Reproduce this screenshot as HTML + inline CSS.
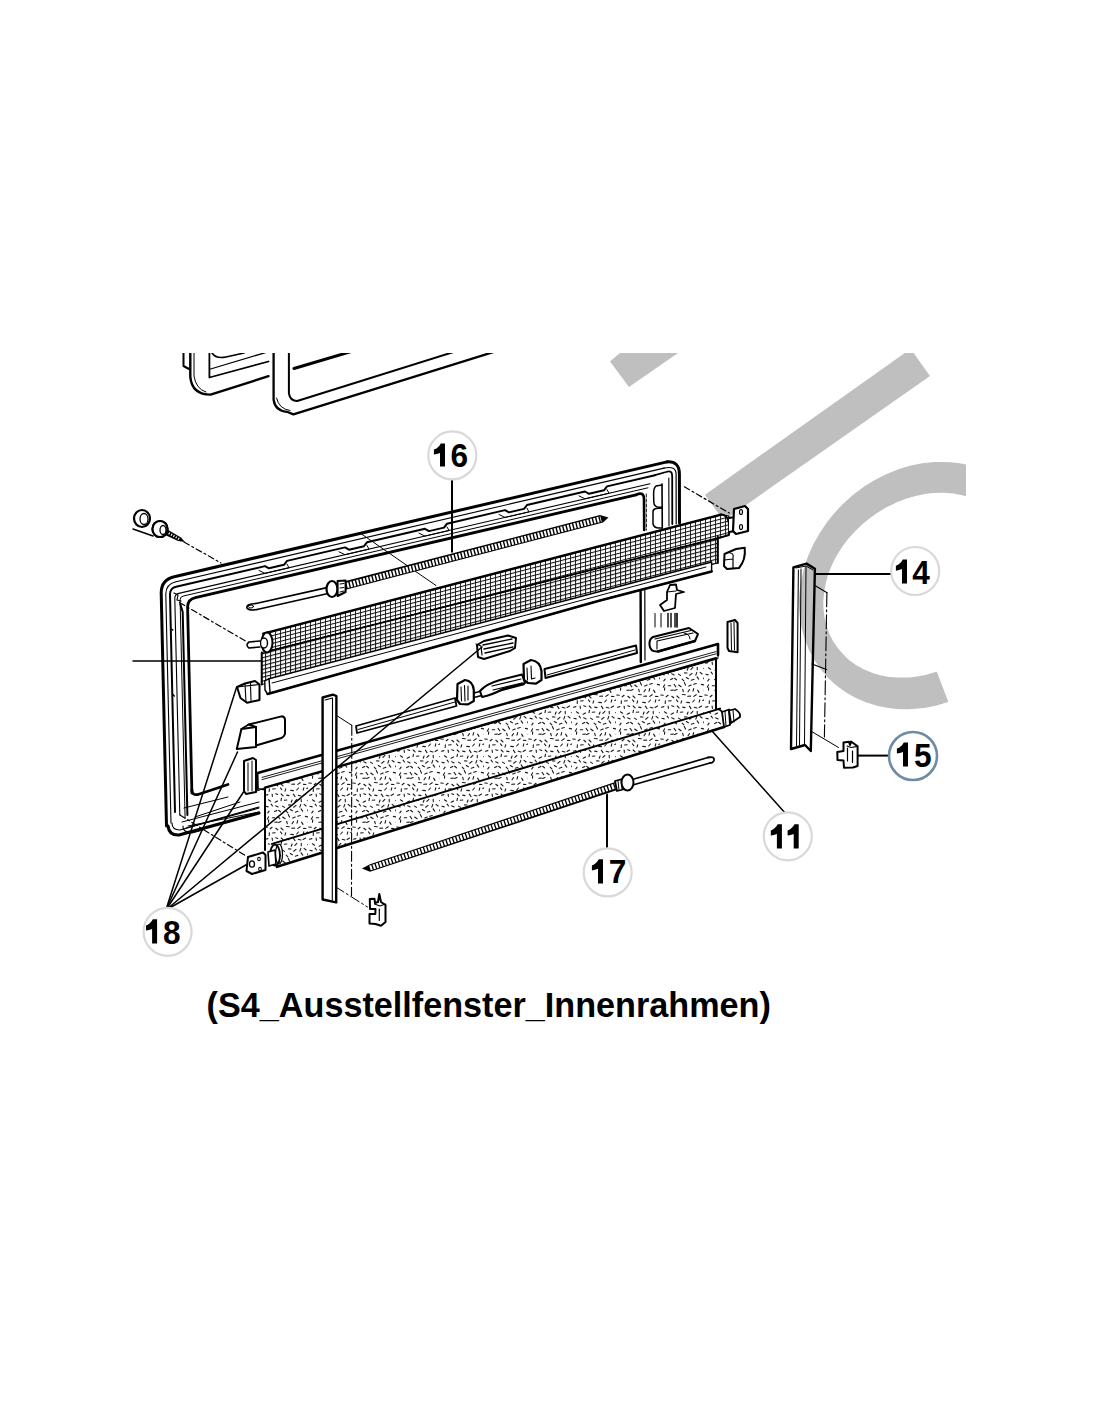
<!DOCTYPE html>
<html><head><meta charset="utf-8"><style>
html,body{margin:0;padding:0;background:#fff;}
body{width:1100px;height:1422px;overflow:hidden;position:relative;font-family:"Liberation Sans",sans-serif;}
svg{position:absolute;left:0;top:0;}
</style></head><body>
<svg width="1100" height="1422" viewBox="0 0 1100 1422">
<defs>
<pattern id="mesh" patternUnits="userSpaceOnUse" width="5.0" height="3.9" patternTransform="skewY(-14.57)"><rect width="5.0" height="3.9" fill="#fff"/><rect x="0" y="0" width="5.0" height="1.15" fill="#111"/><rect x="0" y="0" width="0.95" height="3.9" fill="#111"/></pattern>
<pattern id="mesh2" patternUnits="userSpaceOnUse" width="5.0" height="3.9" patternTransform="skewY(-14.57)"><rect width="5.0" height="3.9" fill="#fff"/><rect x="0" y="0" width="5.0" height="1.05" fill="#111"/><rect x="0" y="0" width="0.85" height="3.9" fill="#111"/></pattern>
<pattern id="speck" patternUnits="userSpaceOnUse" width="44" height="44"><rect width="44" height="44" fill="#fff"/><path d="M3.9 2.6l-2.5 0.6M4.4 7.8l2.2 1.4M1.9 14.2l2.3 0.7M5.1 19.1l-1.3 1.8M4.6 24.8l-1.3 2.4M4.7 27.9l-0.2 2.2M0.7 35.0l2.6 0.2M5.4 40.8l-0.2 2.7M8.1 2.0l0.3 2.4M13.5 8.9l-2.4 1.3M7.1 12.2l1.4 1.8M12.8 18.4l-2.2 1.2M8.3 25.7l2.4 0.0M13.3 30.1l-2.5 0.2M8.1 35.3l-1.9 1.5M11.3 40.7l-2.8 0.3M11.7 1.7l2.1 0.7M17.5 6.2l-0.5 2.5M11.7 13.8l2.5 1.1M14.6 18.3l1.9 1.5M14.1 24.4l1.7 2.4M17.0 29.4l-2.4 1.2M11.8 36.3l1.9 1.5M16.5 39.9l1.3 1.8M17.2 2.0l1.9 1.9M22.9 8.0l-2.6 0.3M18.5 14.1l2.0 1.3M22.2 19.2l1.7 1.7M18.7 25.0l2.4 1.7M22.7 29.4l0.6 2.2M17.0 36.0l2.0 1.9M21.7 40.9l-0.7 2.3M22.7 3.1l2.3 0.5M28.1 8.0l-0.9 2.3M24.6 12.9l2.4 0.1M26.3 17.5l2.1 1.3M24.3 22.5l1.2 2.6M29.5 29.6l-1.5 2.2M22.4 34.5l2.9 0.2M26.7 42.4l2.7 0.2M29.4 2.1l1.6 2.5M32.9 7.3l-2.0 2.1M32.0 13.4l-2.3 1.8M34.0 19.3l-2.8 0.9M31.2 25.0l-2.4 1.1M33.7 28.6l-0.7 2.6M30.6 36.1l-2.9 0.1M34.5 40.0l-1.8 2.0M34.2 3.3l2.7 0.7M37.2 7.3l0.1 2.4M36.8 12.4l-1.0 2.7M37.1 16.9l1.6 2.2M36.3 23.5l-2.6 0.8M37.6 30.1l1.4 2.3M36.2 34.7l-2.4 1.7M39.8 39.8l-0.6 2.4M41.6 2.0l-2.5 1.4M43.8 8.5l1.5 1.8M40.1 12.4l2.0 1.6M43.5 18.0l1.6 2.4M41.4 24.4l2.2 0.5M45.8 28.0l-1.6 2.1M39.6 36.4l2.3 0.1M44.9 39.4l-2.1 1.2" stroke="#1a1a1a" stroke-width="1.1" stroke-linecap="round" fill="none"/></pattern>
</defs>
<polygon points="620,353 678,353 629,387 610,361.5" fill="#bfbfbf" stroke="none"/>
<polygon points="705,494.7 904.8,353 913.6,353 930,376 723.6,520.7" fill="#bfbfbf" stroke="none"/>
<clipPath id="wmclip"><polygon points="0,353 966,353 966,585 903.8,585 985.7,800 0,800"/></clipPath>
<path d="M1002.84 667.96 A114.5 131.8 46 1 1 843.76 503.24 A114.5 131.8 46 1 1 1002.84 667.96 Z M971.99 652.60 A84.4 103.3 53 1 1 870.41 517.80 A84.4 103.3 53 1 1 971.99 652.60 Z" fill="#bfbfbf" fill-rule="evenodd" stroke="none" clip-path="url(#wmclip)"/>
<g stroke="#000" stroke-linecap="round" stroke-linejoin="round" fill="none">
<clipPath id="topclip"><rect x="0" y="353" width="1100" height="200"/></clipPath>
<g clip-path="url(#topclip)">
<path d="M190.3 345 L190.3 376.8 Q192 394.6 210.6 394.6 L268.5 376.2" stroke-width="2.4" fill="none" />
<path d="M194 345 L194 376 Q196 389 206 392" stroke-width="1.0" fill="none" />
<path d="M183.5 353 L183.5 366 L189 369" stroke-width="2.0" fill="none" />
<path d="M209.4 345 L209.4 377.5 L268.5 361.5" stroke-width="1.8" fill="none" />
<path d="M210.6 369 L265.4 352.6" stroke-width="1.3" fill="none" />
<path d="M212 353 Q216 359 226 357 L244 353" stroke-width="1.6" fill="none" />
<path d="M273.6 345 L273.6 399.7 Q275 411 287 411.8 L293.4 414.4 L500 350" stroke-width="2.3" fill="none" />
<path d="M276.5 398 Q279 409 290 410.5" stroke-width="1.0" fill="none" />
<path d="M288.9 345 L288.9 393.4 Q290 401 297.2 401 L460 350" stroke-width="2.0" fill="none" />
<path d="M294 368.5 L353 351" stroke-width="3.0" fill="none" />
</g>
<path d="M166.5 826.0 L161.2 592.7 Q161.3 579.7 174.3 576.7 L667.0 461.9" stroke-width="3.0" fill="none" />
<path d="M171.0 823.0 L165.8 594.1 Q165.9 584.1 175.9 581.8 L664.0 468.1" stroke-width="1.1" fill="none" />
<path d="M175.0 812.0 L170.0 594.2 Q170.1 588.2 176.1 586.8 L265.0 566.1 L269.0 568.3 L284.0 564.8 L287.0 560.9 L345.0 547.4 L349.0 549.7 L364.0 546.2 L367.0 542.3 L425.0 528.8 L429.0 531.1 L444.0 527.6 L447.0 523.7 L505.0 510.1 L509.0 512.4 L524.0 508.9 L527.0 505.0 L585.0 491.5 L589.0 493.8 L604.0 490.3 L607.0 486.4 L655.0 475.2" stroke-width="2.0" fill="none" />
<path d="M179.8 815.0 L174.8 598.4 Q174.8 594.4 178.8 593.4 L650.0 483.7" stroke-width="1.1" fill="none" />
<path d="M185.1 818.0 L180.1 599.8 Q180.1 596.8 183.1 596.1 L648.0 487.8" stroke-width="1.0" fill="none" />
<path d="M191.9 793.0 L187.6 607.4 Q187.4 599.4 195.4 597.6 L636.0 494.9" stroke-width="2.8" fill="none" />
<path d="M259.0 570.5 L265.0 573.4 L289.0 567.8 L287.0 564.1" stroke-width="1.0" fill="none" />
<path d="M339.0 551.8 L345.0 554.7 L369.0 549.1 L367.0 545.5" stroke-width="1.0" fill="none" />
<path d="M419.0 533.2 L425.0 536.1 L449.0 530.5 L447.0 526.9" stroke-width="1.0" fill="none" />
<path d="M499.0 514.5 L505.0 517.4 L529.0 511.9 L527.0 508.2" stroke-width="1.0" fill="none" />
<path d="M579.0 495.9 L585.0 498.8 L609.0 493.2 L607.0 489.6" stroke-width="1.0" fill="none" />
<path d="M187.4 815 L182.7 612 L180.3 604" stroke-width="2.0" fill="none" />
<path d="M170.8 629 L172.8 630 M172.3 694 L174.3 696" stroke-width="1.4" fill="none" />
<path d="M174 593 L178 595 L177 600 L181 601" stroke-width="1.2" fill="none" />
<path d="M667 461.9 Q679.4 461 679.4 474 L679.5 523" stroke-width="3.0" fill="none" />
<path d="M664 468.1 Q676 465.5 676.1 474 L676.2 524" stroke-width="1.2" fill="none" />
<path d="M655 475.2 L666 472 Q672.2 469.6 672.2 476 L672.3 524" stroke-width="1.8" fill="none" />
<path d="M636 494.9 Q644 491 644 499 L644.2 530" stroke-width="2.6" fill="none" />
<path d="M168 826 Q169 835.5 179 835 L259 813" stroke-width="3.0" fill="none" />
<path d="M172 823 Q172 830 180 830 L259 808" stroke-width="1.1" fill="none" />
<path d="M191.9 790 Q191.9 795.5 198 794.5 L228 784.5" stroke-width="2.8" fill="none" />
<path d="M184 808 L228 797" stroke-width="1.0" fill="none" />
<path d="M195 817 L240 802" stroke-width="1.0" fill="none" />
<path d="M182 822 L259 802" stroke-width="1.0" fill="none" />
<path d="M186 828 L259 807" stroke-width="1.2" fill="none" />
<path d="M188 826 L259 812" stroke-width="1.0" fill="none" />
<path d="M183 826 Q182 832 192 833 L203 830" stroke-width="1.1" fill="none" />
<path d="M662 484 L662.3 528" stroke-width="1.6" fill="none" />
<path d="M668.8 478 L669 526" stroke-width="1.1" fill="none" />
<path d="M646.3 494 L646.5 530" stroke-width="0.9" fill="none" stroke-dasharray="3 2"/>
<path d="M662 485 L656 486 Q653.5 488 653.6 494 L653.8 502 Q654 507 659 507.3 L662 507.3" stroke-width="1.5" fill="none" />
<path d="M662 508 L656 508.5 Q653 509 653 512 L653 524 Q654 528 659 528 L662 528" stroke-width="1.5" fill="none" />
<path d="M640.6 589 L640.8 662" stroke-width="2.4" fill="none" />
<path d="M644.8 589 L645 660" stroke-width="1.2" fill="none" />
<ellipse cx="142" cy="518.5" rx="8" ry="8.5" stroke-width="2.2" fill="#fff"/>
<ellipse cx="144" cy="519" rx="4" ry="5.5" stroke-width="1.3"/>
<ellipse cx="160" cy="529" rx="7.5" ry="8" stroke-width="2.2" fill="#fff"/>
<path d="M133 529 L153 536" stroke-width="1.5" fill="none" />
<polygon points="163,527 181,537.5 185,542 178,541 163,534" fill="#000" stroke="none"/>
<path d="M164 530.5 L180 539.5" stroke-width="2.2" fill="none" stroke="#fff" stroke-linecap="butt" stroke-dasharray="1.1 1.6"/>
<ellipse cx="160" cy="529" rx="7.5" ry="8" stroke-width="2.2" fill="#fff"/>
<ellipse cx="163" cy="530" rx="3" ry="4.5" stroke-width="1.3" fill="#fff"/>
<path d="M184 542 L221 563" stroke-width="1.2" fill="none" stroke-dasharray="6 3 2 3"/>
<path d="M179.5 602.5 L245.5 641" stroke-width="1.2" fill="none" stroke-dasharray="6 3 2 3"/>
<path d="M360 533 L436 585.5" stroke-width="1.0" fill="none" />
<path d="M684.3 486.8 L729.3 513" stroke-width="1.2" fill="none" stroke-dasharray="6 3 2 3"/>
<path d="M180 815 L246 856" stroke-width="1.2" fill="none" stroke-dasharray="6 3 2 3"/>
<polygon points="345.6,581.1 600,515 608.5,517.5 603,522.5 345.6,589.8" fill="#000" stroke="none"/>
<path d="M347 585.4 L601 519" stroke-width="5.6" fill="none" stroke="#fff" stroke-linecap="butt" stroke-dasharray="2.0 1.4"/>
<path d="M256 603.5 L328 587.3 M257 609.5 L328 593.5" stroke-width="1.7" fill="none" />
<path d="M256 603.5 Q246 604 247 608 Q249 611 257 609.5" stroke-width="1.7" fill="#fff" />
<ellipse cx="251" cy="606.5" rx="2.5" ry="1.5" stroke-width="1"/>
<ellipse cx="332" cy="589" rx="5.5" ry="8" stroke-width="2.2" fill="#fff"/>
<path d="M337.6 581 L345.6 580.4 L345.6 592 L337.6 596 Z" stroke-width="2.0" fill="#fff" />
<path d="M340 584 L344 583.5 M340 588 L344 587.5 M340 592 L344 591" stroke-width="1.0" fill="none" />
<path d="M263.3 633.6 L721.0 514.6 L729.0 516.0 L729.0 535.0 L721.0 537.4 L269.0 651.0 Z" stroke-width="1.0" fill="url(#mesh2)" />
<path d="M263.3 633.6 L721 514.6" stroke-width="2.4" fill="none" />
<path d="M261.8 652.5 L269.0 651.0 L721.0 537.4 L717.8 537.0 L717.8 563.0 L261.8 684.5 Z" stroke-width="1.0" fill="url(#mesh)" />
<path d="M261.8 652.5 L261.8 684.5 M717.8 537 L717.8 563" stroke-width="2.0" fill="none" />
<path d="M269 651 L721 537.4" stroke-width="1.6" fill="none" />
<ellipse cx="267" cy="642.5" rx="5.5" ry="10" stroke-width="2" fill="#fff"/>
<ellipse cx="264" cy="643" rx="3.5" ry="5" stroke-width="1.4" fill="#fff"/>
<path d="M260 641 L249 642 Q245 645 249 648 L260 647" stroke-width="1.6" fill="#fff" />
<path d="M721 514.6 Q731 515 729 535 L721 537.4" stroke-width="2.0" fill="none" />
<path d="M729 518 L735 517 L735 531 L729 532" stroke-width="1.8" fill="#fff" />
<path d="M734 509 L745 506 L748 509 L748 531 L736 534 L733 531 Z" stroke-width="2.2" fill="#fff" />
<ellipse cx="741" cy="512" rx="1.5" ry="2.5" stroke-width="1.2"/>
<ellipse cx="741" cy="527" rx="1.5" ry="2.5" stroke-width="1.2"/>
<path d="M269 678.7 L711.6 562 L711.6 571.4 L600 600.5 L267.6 694 Z" stroke-width="1.4" fill="#fff" />
<path d="M267.6 694 L600 600.5 L711.6 571.4" stroke-width="2.6" fill="none" />
<path d="M264.8 681 L269 678.7 L270 692 L267.6 694 L265 690 Z" stroke-width="1.4" fill="#fff" />
<path d="M272 683 L706 567" stroke-width="1.0" fill="none" />
<path d="M265.0 787.7 L716.0 658.2 L716.0 709.8 L265.0 846.0 Z" stroke-width="1.0" fill="url(#speck)" stroke="none"/>
<path d="M265 785.7 L265 850.0 M716 658.2 L716 709.8" stroke-width="2.0" fill="none" />
<path d="M257.7 772.9 L718.0 644.0 L718.0 658.7 L265.0 787.7 L258.0 790.7 Z" stroke-width="1.0" fill="#fff" />
<path d="M257.7 772.9 L718 644.0 L718 655.0" stroke-width="2.6" fill="none" />
<path d="M262 777.4 L716 651.6 M262 779.6 L716 653.8" stroke-width="0.9" fill="none" />
<path d="M265 787.7 L716 658.2" stroke-width="2.4" fill="none" />
<path d="M257.7 772.9 L258 788.8 L265 789.7" stroke-width="1.6" fill="none" />
<path d="M277.0 842.4 L720.0 708.6 L724.0 727.0 L277.0 866.8 Z" stroke-width="1.0" fill="url(#speck)" stroke="none"/>
<path d="M272 843.9 L720 708.6" stroke-width="2.0" fill="none" />
<path d="M277 866.8 L724 727.0" stroke-width="2.6" fill="none" />
<path d="M718 709.2 Q727 712.2 724 727.0" stroke-width="1.8" fill="#fff" />
<path d="M722 712 L729 709.5 L730 725 L724 727 Z" stroke-width="1.8" fill="#fff" />
<path d="M729 710.5 L735 709 Q741 713 740 717 L731 723 Z" stroke-width="1.8" fill="#fff" />
<path d="M725 711.5 L726 726 M733 710 L734 722" stroke-width="1.0" fill="none" />
<ellipse cx="275" cy="855.2" rx="5" ry="10.5" stroke-width="1.8" fill="#fff"/>
<ellipse cx="279" cy="854.0" rx="3.5" ry="10" stroke-width="1.2"/>
<path d="M268 852 L275 850 L276 864 L269 866 Z" stroke-width="1.6" fill="#fff" />
<path d="M248 857 L263 852.5 L265.5 855 L265.5 870 L252 874 L246.5 871 Z" stroke-width="2.0" fill="#fff" />
<ellipse cx="252" cy="864" rx="2.5" ry="3.2" stroke-width="1.3"/>
<ellipse cx="259" cy="859" rx="1.3" ry="1.8" stroke-width="1.1"/>
<ellipse cx="260" cy="869" rx="1.3" ry="1.8" stroke-width="1.1"/>
<path d="M244 761 L253 758 L256 760 L256 792 L246 794 L244 791 Z" stroke-width="2.0" fill="#fff" />
<path d="M248 763 L248 791 M252 761 L252 791" stroke-width="1.0" fill="none" />
<path d="M336.4 715.4 L351.8 725.3" stroke-width="1.0" fill="none" />
<path d="M351.8 725.3 L351.5 895.5" stroke-width="1.1" fill="none" stroke-dasharray="10 3 2 3"/>
<path d="M335.4 886.7 L367.5 907" stroke-width="1.0" fill="none" stroke-dasharray="10 3 2 3"/>
<path d="M322.6 697.5 L333.0 694.7 L336.4 696.0 L336.2 902.4 L322.6 899.5 Z" stroke-width="2.4" fill="#fff" />
<path d="M332.5 698 L332.3 900 M325 700 L332.5 698" stroke-width="1.1" fill="none" />
<path d="M369.8 899 L374.5 898.8 L375 903 L378 902 L379.3 894 L381 902 L385.5 905 L385.5 922 L381 925.7 L375.5 924 L369.5 923.5 L369.5 914 L375.3 914 L375.5 909 L370 909 Z" stroke-width="2.0" fill="#fff" />
<path d="M379.3 909 L379.3 920.5 M374.5 904 L380 906 L385.5 904" stroke-width="1.2" fill="none" />
<polygon points="370,864.2 616,781.7 618,789.8 370,871.8 362,868.5" fill="#000" stroke="none"/>
<path d="M370 868 L616 785.7" stroke-width="5.0" fill="none" stroke="#fff" stroke-linecap="butt" stroke-dasharray="2.1 1.3"/>
<path d="M615 781 L624 778.5 L625 789 L617 791 Z" stroke-width="1.8" fill="#fff" />
<path d="M618 781 L619 790 M621 780 L622 789" stroke-width="1.0" fill="none" />
<ellipse cx="627.5" cy="782.5" rx="6" ry="8" stroke-width="2.0" fill="#fff"/>
<path d="M634 779 L708 757.5 M634.5 784.5 L710 763" stroke-width="1.8" fill="none" />
<path d="M708 757.5 Q715 756 714 760.5 Q713 763 710 763" stroke-width="1.8" fill="none" />
<path d="M237 687 L245 683.5 L255 681 L259.5 684.5 L259.5 700 L247 702.7 L240.5 698 Z" stroke-width="2.0" fill="#fff" />
<path d="M245 684 L246 702 M250.5 683 L251 701.5 M237 687 L259.5 684.5" stroke-width="1.1" fill="none" />
<path d="M248.6 724.5 L281.4 716.4 Q285.5 716 285 722 L285 734 Q284 737 281.4 738 L256 745.5 L256 727 Z" stroke-width="2.0" fill="#fff" />
<path d="M241.4 729 L256 727 L256 747 L236.8 749 Z" stroke-width="2.0" fill="#fff" />
<path d="M241.4 729 L248.6 724.5" stroke-width="1.5" fill="none" />
<path d="M356 726 L455 698 L456.5 706 L357 733 Z" stroke-width="1.8" fill="#fff" />
<path d="M358 729.5 L455 702" stroke-width="1.0" fill="none" />
<path d="M477 645 L484 641 L508 635.5 L516 638 L515 648 L510 651 L484 659 L478 657 Z" stroke-width="2.0" fill="#fff" />
<path d="M483 645 L512 639 M484 649 L513 643 M485 653 L513 647" stroke-width="1.3" fill="none" />
<path d="M476 644 L481 646 L482 655" stroke-width="1.2" fill="none" />
<path d="M457.5 684 L465 680 Q473 681 473.8 690 L473.8 701 L468 704.4 L460 704 L457 700 Z" stroke-width="2.2" fill="#fff" />
<path d="M461 687 L461.5 701 M464.5 685.5 L465 701 M468 686 L468 700" stroke-width="1.1" fill="none" />
<path d="M523.5 664 L531 660 Q540 661 541.5 671 L541.5 680 L536 683.6 L528 683 L524 680 Z" stroke-width="2.2" fill="#fff" />
<path d="M527 668 L527.5 680 M531 666 L531.5 679 L535 678" stroke-width="1.1" fill="none" />
<path d="M474 693 L524 680 M474 697.5 L524 684.5" stroke-width="1.5" fill="none" />
<path d="M480 691 Q486 684 500 680 L522 674.5 L525 683 L503 689 Q492 695 482 697 Z" stroke-width="2.0" fill="#fff" />
<path d="M492 686 L521 679 M493 690 L522 683" stroke-width="1.1" fill="none" />
<path d="M544.5 669 L636 645.5 L637 653 L545.5 678 Z" stroke-width="2.0" fill="#fff" />
<path d="M547 675 L635 650" stroke-width="1.0" fill="none" />
<path d="M670 585 L676 584.5 L677 590 L684 592 L676 594 L675 608 L664 611 L660 605 L667 600 L667 592 Z" stroke-width="1.8" fill="#fff" />
<path d="M667 592 L676 591" stroke-width="1.0" fill="none" />
<path d="M655 613.5 L655 627" stroke-width="1.0" fill="none" />
<path d="M661 613.5 L661 627" stroke-width="1.0" fill="none" />
<path d="M668 613.5 L668 627" stroke-width="1.4" fill="none" />
<path d="M671 613.5 L671 627" stroke-width="1.4" fill="none" />
<path d="M675 613.5 L675 627" stroke-width="1.4" fill="none" />
<path d="M677 613.5 L677 627" stroke-width="1.6" fill="none" />
<path d="M653 637 L689 628 L698 634 L695 641 L658 651.5 Q650 652 649.5 645 Q649 639 653 637 Z" stroke-width="2.0" fill="#fff" />
<path d="M655 639 L691 630.5 M657 649 L657 641 L693 633" stroke-width="1.1" fill="none" />
<path d="M658 651.5 L695 641" stroke-width="2.4" fill="none" />
<path d="M684 633 Q690 634 690 639" stroke-width="1.0" fill="none" />
<path d="M727.5 622 L735 620 L737.6 623 L737.6 652.3 L729 651 L727.5 648 Z" stroke-width="2.0" fill="#fff" />
<path d="M731 623 L731.5 650 M734 622 L734.5 650" stroke-width="1.0" fill="none" />
<path d="M724.5 554 L736 549 L744.7 547.7 Q746 560 739 568 L727 569 L724 566 Z" stroke-width="2.0" fill="#fff" />
<path d="M730 553 Q734 553 733 558 L733 568 M724 560 L733 559" stroke-width="1.2" fill="none" />
<path d="M814.9 585.6 L827.1 592.7" stroke-width="1.1" fill="none" />
<path d="M826.9 592.7 L824.4 737" stroke-width="1.1" fill="none" stroke-dasharray="14 3 2 3"/>
<path d="M812 664 L826.5 669.5" stroke-width="1.2" fill="none" />
<path d="M811.3 731.3 L838.5 747.5" stroke-width="1.0" fill="none" />
<path d="M793.4 567.4 L806.5 563.6 L814.9 568.7 L810.8 751 L805 745 L791 749 Z" stroke-width="2.4" fill="none" />
<path d="M798.4 570 L796.5 746 M801 569 L799.5 745 M806 567 L804.5 744" stroke-width="1.0" fill="none" />
<path d="M796 568 L806 566 L813 570" stroke-width="1.0" fill="none" />
<path d="M843.5 742.5 L849 741.8 L850 745 L851 741.5 L857.6 746.3 L857.6 766 L853 767.5 L844 767.7 L843.5 760.5 L837.5 760 L837.3 752 L843.5 751 Z" stroke-width="2.0" fill="#fff" />
<path d="M847.5 748 L847.5 761 M852.5 751 L852.5 762.5 M847 746 L851 747.5 L857.6 746.3" stroke-width="1.2" fill="none" />
<path d="M165.9 910 L236.5 687.5" stroke-width="1.5" fill="none" />
<path d="M165.9 910 L237.5 752" stroke-width="1.5" fill="none" />
<path d="M165.9 910 L243.5 792" stroke-width="1.5" fill="none" />
<path d="M165.9 910 L482 647" stroke-width="1.5" fill="none" />
<path d="M165.9 910 L246.8 864.5" stroke-width="1.5" fill="none" />
<path d="M133 661 L261.8 661" stroke-width="1.5" fill="none" />
<path d="M712 731 L786 814" stroke-width="1.5" fill="none" />
<path d="M607 794.4 L607 851" stroke-width="2.0" fill="none" />
</g>
<line x1="452.0" y1="473.0" x2="452.0" y2="552.5" stroke-width="2.0" stroke="#000"/>
<circle cx="452.3" cy="455.4" r="24" fill="#fff" stroke="#d9d9d9" stroke-width="2.2"/>
<path d="M445.00 443.40 L445.00 466.60 L440.00 466.60 L440.00 453.00 Q437.00 454.00 433.90 454.60 L433.90 449.60 Q438.50 447.90 440.80 443.40 Z" fill="#000" stroke="none"/>
<text transform="translate(450.60 467.20) scale(0.93 1)" x="0" y="0" font-family="Liberation Sans" font-weight="bold" font-size="34" fill="#000" stroke="none">6</text>
<line x1="815.0" y1="574.0" x2="891.0" y2="574.0" stroke-width="2.0" stroke="#000"/>
<circle cx="915.2" cy="571" r="24" fill="#fff" stroke="#d9d9d9" stroke-width="2.2"/>
<path d="M907.00 559.50 L907.00 583.50 L902.00 583.50 L902.00 569.10 Q899.00 570.10 895.90 570.70 L895.90 565.70 Q900.50 564.00 902.80 559.50 Z" fill="#000" stroke="none"/>
<text transform="translate(912.30 583.50) scale(0.93 1)" x="0" y="0" font-family="Liberation Sans" font-weight="bold" font-size="34" fill="#000" stroke="none">4</text>
<line x1="858.0" y1="755.6" x2="889.0" y2="755.6" stroke-width="2.0" stroke="#000"/>
<circle cx="913" cy="756" r="24" fill="#fff" stroke="#6e8ca5" stroke-width="2.6"/>
<path d="M908.00 742.40 L908.00 766.40 L903.00 766.40 L903.00 752.00 Q900.00 753.00 896.90 753.60 L896.90 748.60 Q901.50 746.90 903.80 742.40 Z" fill="#000" stroke="none"/>
<text transform="translate(914.10 766.60) scale(0.93 1)" x="0" y="0" font-family="Liberation Sans" font-weight="bold" font-size="34" fill="#000" stroke="none">5</text>
<circle cx="787.8" cy="836.3" r="24" fill="#fff" stroke="#d9d9d9" stroke-width="2.2"/>
<path d="M781.90 824.30 L781.90 848.60 L776.90 848.60 L776.90 833.90 Q773.90 834.90 770.80 835.50 L770.80 830.50 Q775.40 828.80 777.70 824.30 Z" fill="#000" stroke="none"/>
<path d="M798.70 824.30 L798.70 848.60 L793.70 848.60 L793.70 833.90 Q790.70 834.90 787.60 835.50 L787.60 830.50 Q792.20 828.80 794.50 824.30 Z" fill="#000" stroke="none"/>
<circle cx="607.7" cy="872.4" r="24" fill="#fff" stroke="#d9d9d9" stroke-width="2.2"/>
<path d="M603.00 859.20 L603.00 883.40 L598.00 883.40 L598.00 868.80 Q595.00 869.80 591.90 870.40 L591.90 865.40 Q596.50 863.70 598.80 859.20 Z" fill="#000" stroke="none"/>
<text transform="translate(608.70 883.40) scale(0.93 1)" x="0" y="0" font-family="Liberation Sans" font-weight="bold" font-size="34" fill="#000" stroke="none">7</text>
<circle cx="167.6" cy="931.8" r="24" fill="#fff" stroke="#d9d9d9" stroke-width="2.2"/>
<path d="M157.10 919.30 L157.10 943.60 L152.10 943.60 L152.10 928.90 Q149.10 929.90 146.00 930.50 L146.00 925.50 Q150.60 923.80 152.90 919.30 Z" fill="#000" stroke="none"/>
<text transform="translate(163.10 943.90) scale(0.93 1)" x="0" y="0" font-family="Liberation Sans" font-weight="bold" font-size="34" fill="#000" stroke="none">8</text>
<text x="206.6" y="1016.6" font-family="Liberation Sans" font-weight="bold" font-size="34.2" fill="#000">(S4_Ausstellfenster_Innenrahmen)</text>
</svg>
</body></html>
